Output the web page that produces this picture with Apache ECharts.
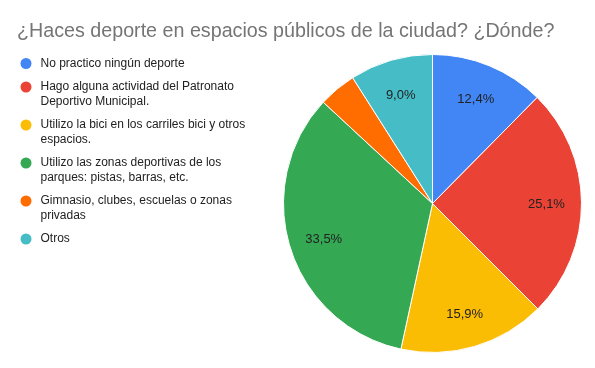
<!DOCTYPE html>
<html><head><meta charset="utf-8">
<script src="https://cdn.jsdelivr.net/npm/echarts@6/dist/echarts.min.js"></script>
<style>html,body{margin:0;padding:0;background:#fff}#c{width:595px;height:368px}</style>
</head><body><div id="c"></div>
<script>
const titleText = '¿Haces deporte en espacios públicos de la ciudad? ¿Dónde?';
const categories = [
  'No practico ningún deporte',
  'Hago alguna actividad del Patronato\nDeportivo Municipal.',
  'Utilizo la bici en los carriles bici y otros\nespacios.',
  'Utilizo las zonas deportivas de los\nparques: pistas, barras, etc.',
  'Gimnasio, clubes, escuelas o zonas\nprivadas',
  'Otros'
];
const values = [12.4, 25.1, 15.9, 33.5, 4.1, 9.0];
const colors = ['#4285F4', '#EA4335', '#FBBC04', '#34A853', '#FF6D01', '#46BDC6'];

const chart = echarts.init(document.getElementById('c'), null, {renderer: 'canvas'});
const data = categories.map((n, i) => ({name: n, value: values[i], itemStyle: {color: colors[i]}}));
const total = values.reduce((a, b) => a + b, 0);
const FONT = 'Liberation Sans, Arial, sans-serif';

const rich = {
  s: {width: 9},
  p: {width: 20},
  t: {fontSize: 12, lineHeight: 14.5, color: '#222', fontFamily: FONT}
};
colors.forEach((c, i) => {
  rich['d' + i] = {width: 11, height: 11, borderRadius: 5.5, backgroundColor: c, lineHeight: 14.5};
});

chart.setOption({
  animation: false,
  backgroundColor: '#fff',
  title: {
    text: titleText, left: 12, top: 16.5,
    textStyle: {fontSize: 19.7, fontWeight: 'normal', color: '#757575', fontFamily: FONT}
  },
  legend: {
    orient: 'vertical', left: 9.5, top: 52.5, itemGap: 11.5,
    itemWidth: 0, itemHeight: 0, icon: 'circle',
    selectedMode: false,
    data: categories,
    formatter: function (name) {
      const i = categories.indexOf(name);
      const lines = name.split('\n');
      let s = '{d' + i + '|}{s|}{t|' + lines[0] + '}';
      for (let k = 1; k < lines.length; k++) s += '\n{p|}{t|' + lines[k] + '}';
      return s;
    },
    textStyle: {rich: rich}
  },
  series: [
    {
      type: 'pie', center: [432.5, 203.5], radius: [0, 149],
      startAngle: 90, clockwise: true,
      itemStyle: {borderColor: '#fff', borderWidth: 1},
      label: {show: false}, labelLine: {show: false},
      silent: true,
      data: data
    },
    {
      type: 'pie', center: [432.5, 205], radius: [73, 149],
      startAngle: 90, clockwise: true, silent: true,
      itemStyle: {color: 'rgba(0,0,0,0)', borderWidth: 0},
      labelLine: {show: false},
      label: {
        show: true, position: 'inside',
        fontSize: 13, color: '#222', fontFamily: FONT,
        formatter: p => (p.value / total * 100 >= 5 ? (p.value / total * 100).toFixed(1).replace('.', ',') + '%' : '')
      },
      legendHoverLink: false,
      data: categories.map((n, i) => ({name: n + ' ', value: values[i]}))
    }
  ]
});
</script>
</body></html>
